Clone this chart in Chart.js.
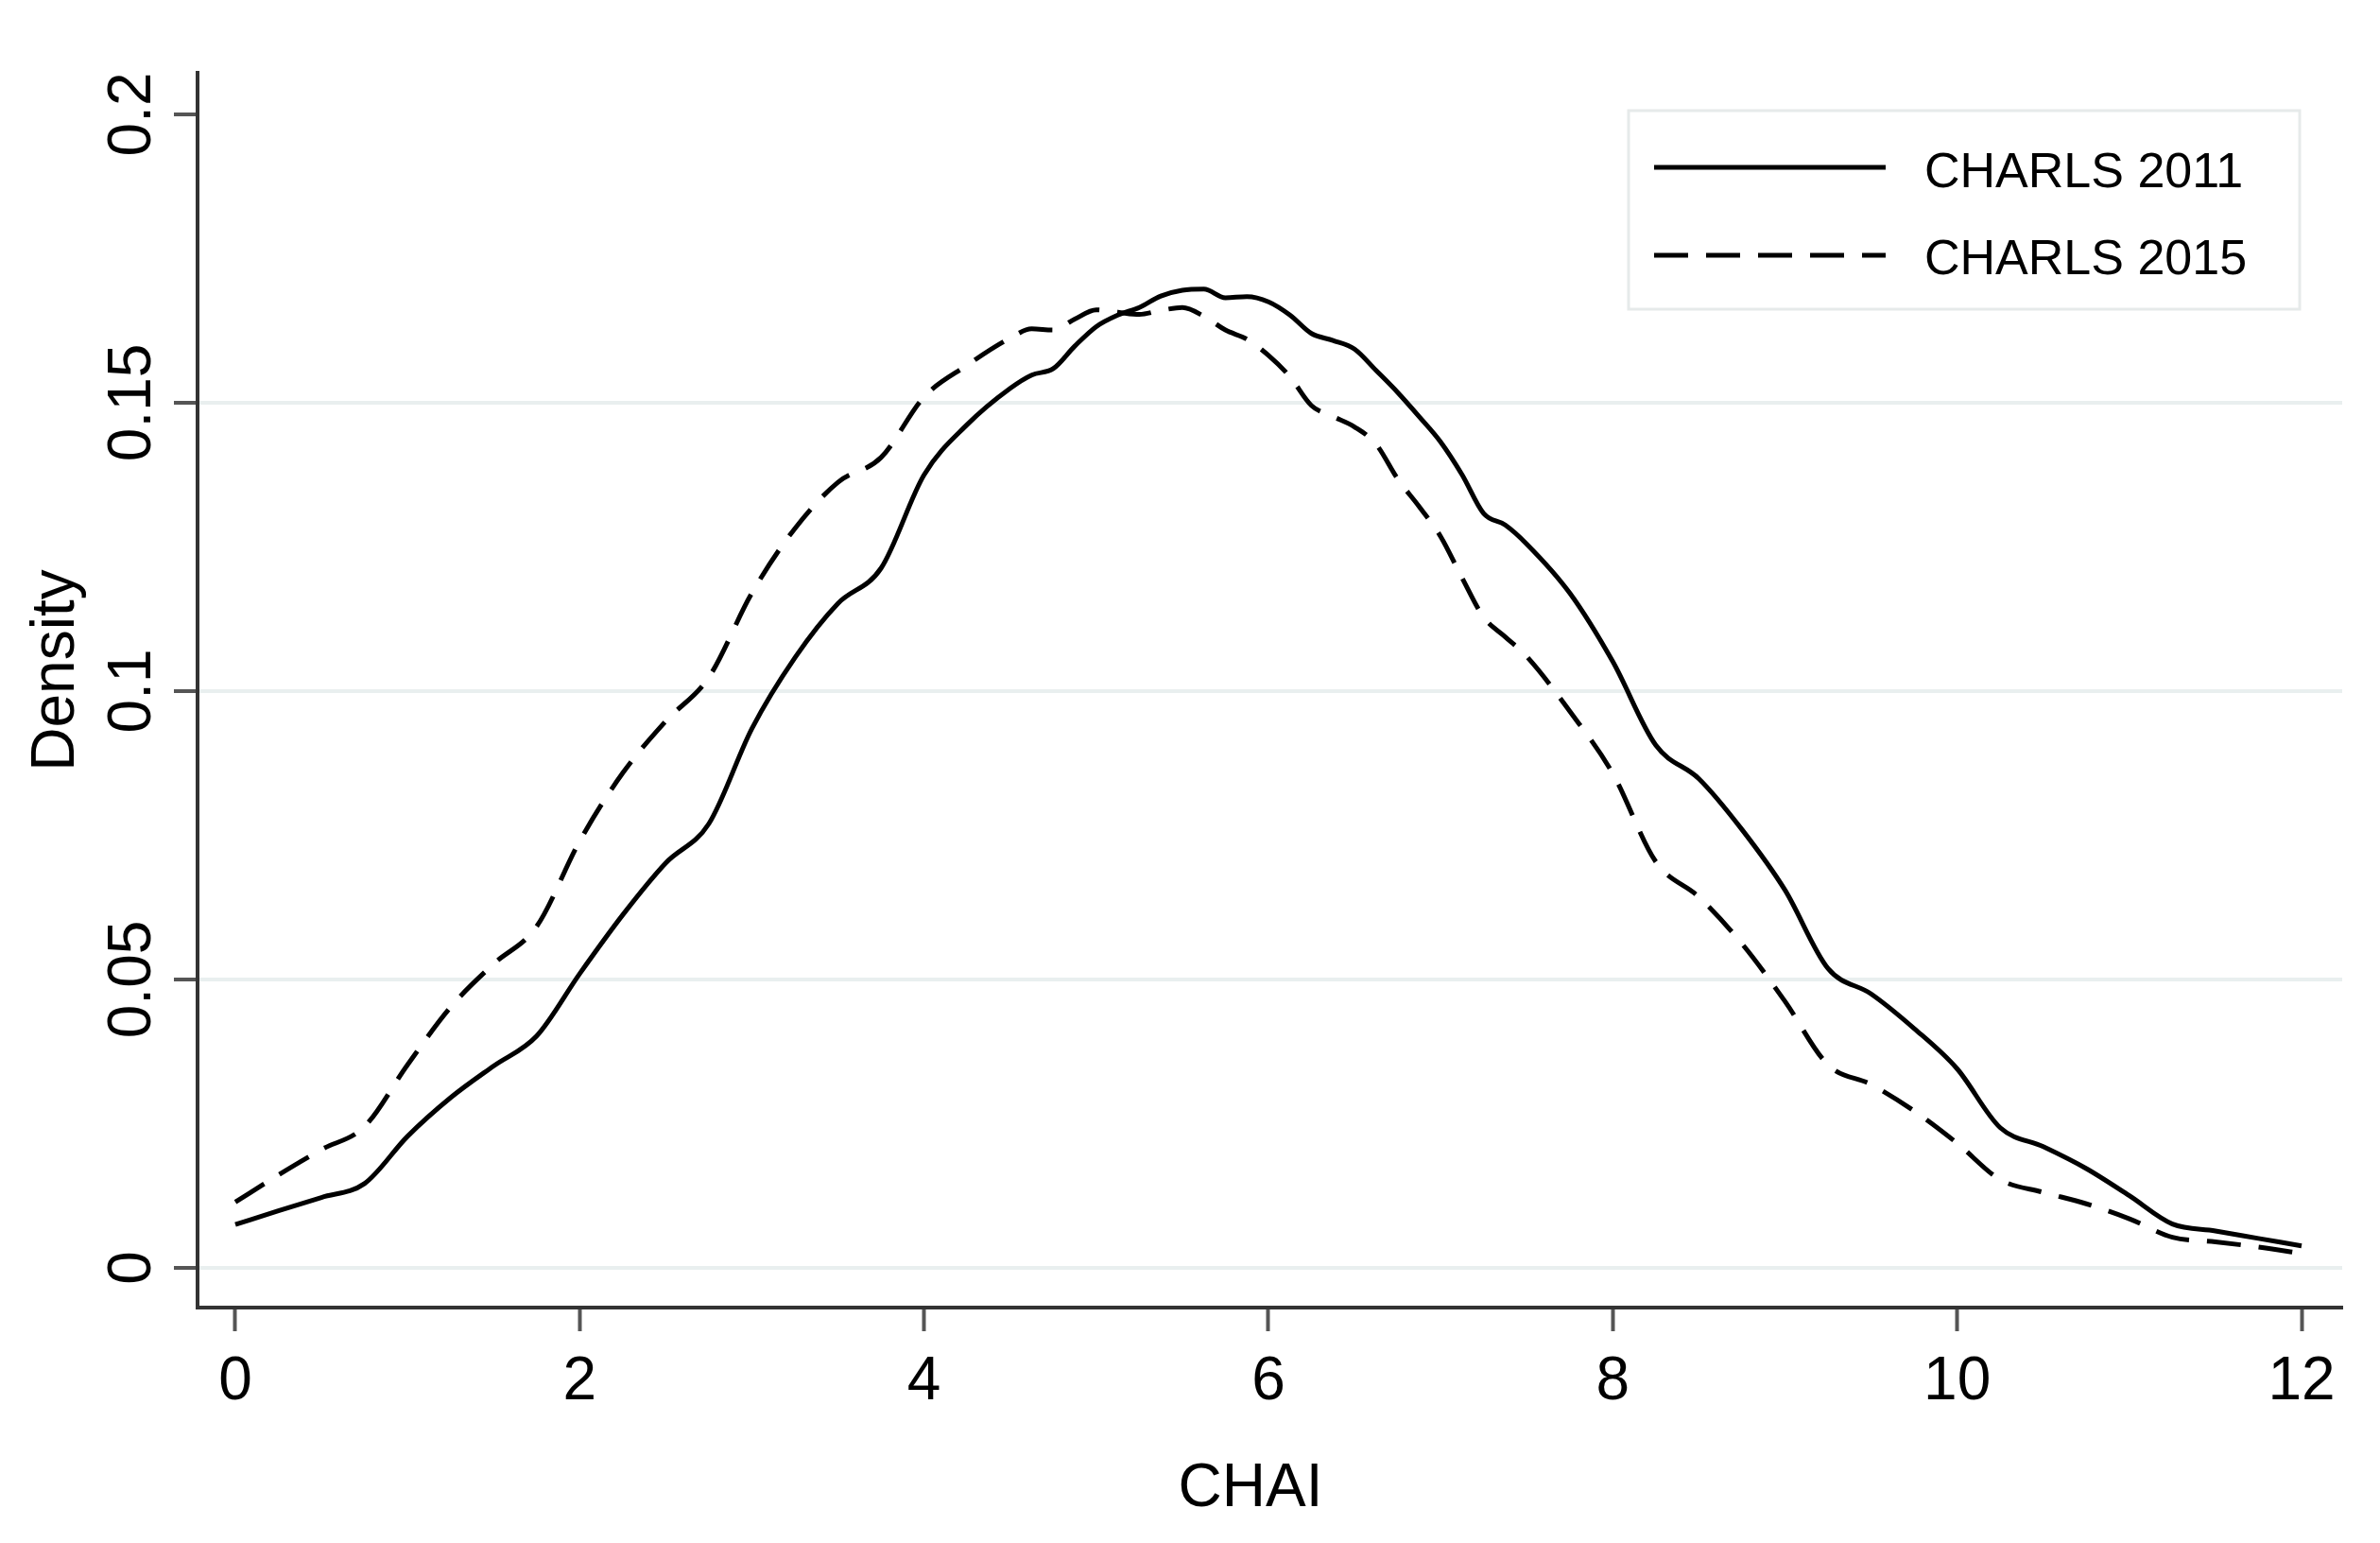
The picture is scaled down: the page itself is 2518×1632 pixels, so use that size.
<!DOCTYPE html>
<html>
<head>
<meta charset="utf-8">
<title>CHAI density</title>
<script src="https://cdn.jsdelivr.net/npm/chart.js@4.4.1/dist/chart.umd.min.js"></script>
<style>
    html, body { margin: 0; padding: 0; background: #ffffff; }
    #wrap { width: 2518px; height: 1632px; }
</style>
</head>
<body>
<div id="wrap"><canvas id="densityChart" width="2518" height="1632"></canvas></div>
<script>
        const chaiGrid = [
            0, 0.25, 0.5, 0.75, 1, 1.25, 1.5, 1.75, 2, 2.25, 2.5, 2.75, 3, 3.25, 3.5, 3.75, 4, 4.25, 4.5,
            4.625, 4.75, 4.875, 5, 5.125, 5.25, 5.375, 5.5, 5.625, 5.75, 5.875, 6, 6.125, 6.25, 6.375, 6.5,
            6.625, 6.75, 6.875, 7, 7.125, 7.25, 7.375, 7.5,
            7.75, 8, 8.25, 8.5, 8.75, 9, 9.25, 9.5, 9.75, 10, 10.25, 10.5, 10.75, 11, 11.25, 11.5, 11.75, 12
        ];
        const charls2011 = [
            0.0075, 0.0099, 0.0122, 0.0146, 0.0228, 0.0295, 0.0350, 0.0402, 0.0510, 0.0612, 0.0702, 0.0770,
            0.0935, 0.1058, 0.1152, 0.1213, 0.1375, 0.1462, 0.1525,
            0.1548, 0.1559, 0.1598, 0.1632, 0.1652, 0.1665, 0.1685, 0.1695, 0.1697, 0.1682, 0.1684, 0.1675,
            0.1652, 0.1620, 0.1608, 0.1593, 0.1556, 0.1518, 0.1476, 0.1432, 0.1375, 0.1308, 0.1288, 0.1255,
            0.1170, 0.1051, 0.0906, 0.0848, 0.0760, 0.0655, 0.0519, 0.0475, 0.0415, 0.0345, 0.0243, 0.0210,
            0.0172, 0.0125, 0.0076, 0.0064, 0.0051, 0.0038
        ];
        const charls2015 = [
            0.0114, 0.0161, 0.0205, 0.0245, 0.0352, 0.0452, 0.0527, 0.0592, 0.0740, 0.0858, 0.0948, 0.1024,
            0.1170, 0.1282, 0.1362, 0.1405, 0.1510, 0.1565, 0.1612,
            0.1628, 0.1626, 0.1645, 0.1661, 0.1657, 0.1653, 0.1660, 0.1665, 0.1650, 0.1626, 0.1610, 0.1582,
            0.1545, 0.1495, 0.1476, 0.1458, 0.1428, 0.1368, 0.1320, 0.1268, 0.1196, 0.1128, 0.1094, 0.1060,
            0.0965, 0.0857, 0.0704, 0.0643, 0.0562, 0.0462, 0.0352, 0.0318, 0.0272, 0.0216, 0.0153, 0.0131,
            0.0111, 0.0085, 0.0053, 0.0045, 0.0036, 0.0025
        ];
        const seriesLabels = ['CHARLS 2011', 'CHARLS 2015'];
        const xTickValues = [0, 2, 4, 6, 8, 10, 12];
        const yTickValues = [0, 0.05, 0.1, 0.15, 0.2];
        const yTickLabels = ['0', '0.05', '0.1', '0.15', '0.2'];
        const xTitle = 'CHAI';
        const yTitle = 'Density';

        const FONT = '"Liberation Sans", Arial, Helvetica, sans-serif';
        const GRID = '#e9efef';

        function toPoints(ys) {
            return chaiGrid.map((x, i) => ({ x: x, y: ys[i] }));
        }

        // White page, rotated y labels, axis titles and the boxed legend
        const stataDecor = {
            id: 'stataDecor',
            beforeDraw(chart) {
                const ctx = chart.ctx;
                ctx.save();
                ctx.fillStyle = '#ffffff';
                ctx.fillRect(0, 0, chart.width, chart.height);
                ctx.restore();
            },
            afterDraw(chart) {
                const ctx = chart.ctx;
                const yScale = chart.scales.y;
                const area = chart.chartArea;
                ctx.save();
                ctx.fillStyle = '#000000';

                // y tick labels, reading bottom to top
                ctx.font = '64px ' + FONT;
                ctx.textAlign = 'center';
                ctx.textBaseline = 'alphabetic';
                yTickValues.forEach((v, i) => {
                    const py = yScale.getPixelForValue(v);
                    ctx.save();
                    ctx.translate(159, py);
                    ctx.rotate(-Math.PI / 2);
                    ctx.fillText(yTickLabels[i], 0, 0);
                    ctx.restore();
                });

                // axis titles
                ctx.save();
                ctx.translate(78, 709);
                ctx.rotate(-Math.PI / 2);
                ctx.fillText(yTitle, 0, 0);
                ctx.restore();
                ctx.fillText(xTitle, 1323, 1593);

                // legend box
                const box = { left: 1723, top: 117, right: 2433, bottom: 327 };
                ctx.fillStyle = '#ffffff';
                ctx.fillRect(box.left, box.top, box.right - box.left, box.bottom - box.top);
                ctx.strokeStyle = '#e6eaea';
                ctx.lineWidth = 3;
                ctx.strokeRect(box.left, box.top, box.right - box.left, box.bottom - box.top);

                const rowY = [177, 270];
                const baseY = [198, 290];
                chart.data.datasets.forEach((ds, i) => {
                    ctx.beginPath();
                    ctx.setLineDash(ds.borderDash || []);
                    ctx.lineWidth = ds.borderWidth;
                    ctx.strokeStyle = ds.borderColor;
                    ctx.moveTo(1750, rowY[i]);
                    ctx.lineTo(1995, rowY[i]);
                    ctx.stroke();
                    ctx.setLineDash([]);
                    ctx.fillStyle = '#000000';
                    ctx.font = '52px ' + FONT;
                    ctx.textAlign = 'left';
                    ctx.fillText(ds.label, 2036, baseY[i]);
                });
                ctx.restore();
            }
        };

        document.addEventListener('DOMContentLoaded', function () {
            const ctx = document.getElementById('densityChart').getContext('2d');
            new Chart(ctx, {
                type: 'line',
                data: {
                    datasets: [{
                        label: seriesLabels[0],
                        data: toPoints(charls2011),
                        borderColor: '#000000',
                        borderWidth: 5,
                        pointRadius: 0,
                        cubicInterpolationMode: 'monotone',
                        fill: false
                    }, {
                        label: seriesLabels[1],
                        data: toPoints(charls2015),
                        borderColor: '#000000',
                        borderWidth: 5,
                        borderDash: [36, 19],
                        pointRadius: 0,
                        cubicInterpolationMode: 'monotone',
                        fill: false
                    }]
                },
                options: {
                    responsive: false,
                    animation: false,
                    devicePixelRatio: 1,
                    layout: { padding: { left: 0, top: 77, right: 40, bottom: 0 } },
                    plugins: {
                        legend: { display: false },
                        tooltip: { enabled: false }
                    },
                    scales: {
                        x: {
                            type: 'linear',
                            min: -0.2195,
                            max: 12.236,
                            afterBuildTicks: (scale) => { scale.ticks = xTickValues.map(v => ({ value: v })); },
                            afterFit: (scale) => { scale.height = 249; },
                            border: { display: true, color: '#333333', width: 4 },
                            grid: {
                                display: true,
                                drawOnChartArea: false,
                                drawTicks: true,
                                tickLength: 25,
                                tickColor: '#555555',
                                tickWidth: 4
                            },
                            ticks: {
                                color: '#000000',
                                font: { family: FONT, size: 64 },
                                padding: 16,
                                maxRotation: 0,
                                callback: (v) => String(v)
                            }
                        },
                        y: {
                            type: 'linear',
                            min: -0.00689,
                            max: 0.2072,
                            afterBuildTicks: (scale) => { scale.ticks = yTickValues.map(v => ({ value: v })); },
                            afterFit: (scale) => { scale.width = 209; },
                            border: { display: true, color: '#333333', width: 4 },
                            grid: {
                                display: true,
                                drawOnChartArea: true,
                                color: (c) => (c.tick && c.tick.value === 0.2) ? 'rgba(0,0,0,0)' : GRID,
                                lineWidth: 4,
                                drawTicks: true,
                                tickLength: 25,
                                tickColor: '#555555',
                                tickWidth: 4
                            },
                            ticks: { display: false }
                        }
                    }
                },
                plugins: [stataDecor]
            });
        });
</script>
</body>
</html>
